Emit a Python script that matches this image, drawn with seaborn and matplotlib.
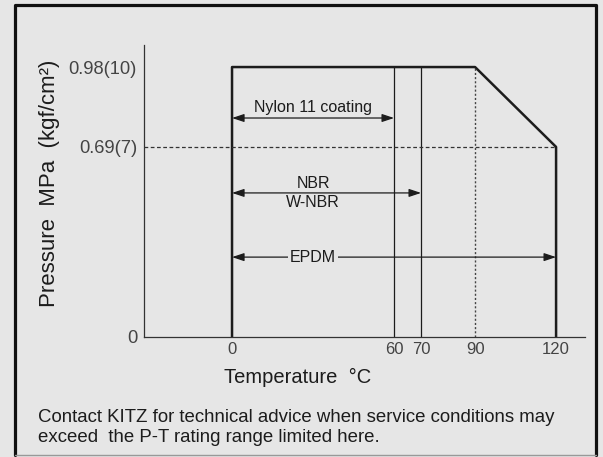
import numpy as np
import pandas as pd
import seaborn as sns
import matplotlib.pyplot as plt
from matplotlib.lines import Line2D

# P-T rating data
rating_temp = [0, 0, 90, 120, 120]
rating_press = [0, 0.98, 0.98, 0.69, 0]

temp_ticks = [0, 60, 70, 90, 120]
press_ticks = [0, 0.69, 0.98]
press_labels = ["0", "0.69(7)", "0.98(10)"]

# material temperature limits
materials = ["Nylon 11 coating", "NBR\nW-NBR", "EPDM"]
mat_max_temp = [60, 70, 120]

bg = "#e6e6e6"
ink = "#1c1c1c"

sns.set_theme(style="white", rc={"figure.facecolor": bg, "axes.facecolor": bg})
plt.rcParams["font.family"] = ["Liberation Sans", "DejaVu Sans"]

fig = plt.figure(figsize=(6.03, 4.57), dpi=100)
ax = fig.add_axes([0.2388, 0.2626, 0.7313, 0.6389])
ax.set_facecolor(bg)

df = pd.DataFrame({"temp": rating_temp, "press": rating_press})
sns.lineplot(data=df, x="temp", y="press", sort=False, estimator=None,
             color=ink, linewidth=1.8, ax=ax)

ax.set_xlim(-32.6, 130.7)
ax.set_ylim(0, 1.06)

# 60 / 70 limits, 90 dotted, 0.69 dashed guide
for t in mat_max_temp[:2]:
    ax.plot([t, t], [0, rating_press[1]], color=ink, lw=0.9)
ax.plot([rating_temp[2]] * 2, [0, rating_press[2]], color="#444", lw=1.0,
        linestyle=(0, (1.5, 1.5)))
ax.plot([ax.get_xlim()[0], rating_temp[3]], [rating_press[3]] * 2,
        color="#333", lw=0.9, linestyle=(0, (3, 2)))

# range arrows
arrow_y = [0.795, 0.523, 0.29]
arrowprops = dict(arrowstyle="<|-|>,head_length=0.6,head_width=0.2",
                  color=ink, lw=0.9, shrinkA=0, shrinkB=0)
for name, tmax, y in zip(materials, mat_max_temp, arrow_y):
    ax.annotate("", xy=(0, y), xytext=(tmax, y), arrowprops=arrowprops)

ax.annotate(materials[0], xy=(30, arrow_y[0]), xytext=(0, 2),
            textcoords="offset points", ha="center", va="bottom",
            fontsize=11.5, color=ink)
ax.text(30, arrow_y[1], materials[1], ha="center", va="center",
        fontsize=11.5, color=ink, linespacing=1.4)
ax.text(30, arrow_y[2], materials[2], ha="center", va="center",
        fontsize=11.5, color=ink,
        bbox=dict(facecolor=bg, edgecolor="none", pad=1.5))

# axes styling
sns.despine(ax=ax)
for s in ["left", "bottom"]:
    ax.spines[s].set_color("#333")
    ax.spines[s].set_linewidth(0.9)

ax.set_xticks(temp_ticks)
ax.set_xticklabels([str(t) for t in temp_ticks])
ax.set_yticks(press_ticks)
ax.set_yticklabels(press_labels)
ax.tick_params(axis="x", length=0, pad=3.5, labelsize=12, labelcolor="#444")
ax.tick_params(axis="y", direction="in", length=4, width=0.9, color="#333",
               pad=5, labelsize=13.2, labelcolor="#444")

ax.set_xlabel("Temperature  °C", fontsize=14.5, color=ink, va="center")
ax.xaxis.set_label_coords(0.349, -0.137)
ax.set_ylabel("Pressure  MPa  (kgf/cm²)", fontsize=16, color=ink, va="center")
ax.yaxis.set_label_coords(-0.215, 0.527)

# footer note
fig.text(38 / 603, 1 - 418 / 457,
         "Contact KITZ for technical advice when service conditions may",
         fontsize=13.4, color=ink, va="center", ha="left")
fig.text(38 / 603, 1 - 438 / 457,
         "exceed  the P-T rating range limited here.",
         fontsize=13.4, color=ink, va="center", ha="left")

# outer frame
x0, x1 = 15 / 603, 596 / 603
y0, y1 = 1 - 455 / 457, 1 - 5 / 457
fig.add_artist(Line2D([x0, x0, x1, x1], [y0, y1, y1, y0],
                      transform=fig.transFigure, color="#111", lw=2.3))
fig.add_artist(Line2D([x0, x1], [y0, y0], transform=fig.transFigure,
                      color="#999", lw=1.0))

fig.savefig("out.png", dpi=100, facecolor=bg)
